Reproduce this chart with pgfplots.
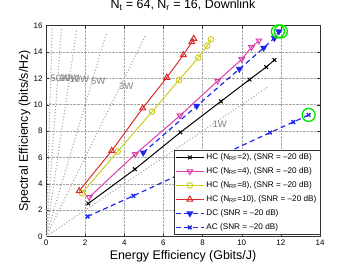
\documentclass[border=0pt]{standalone}
\usepackage{pgfplots}
\pgfplotsset{compat=1.18}
\usepackage{fontspec}
\setmainfont{Liberation Sans}
\definecolor{cRed}{RGB}{220,45,45}
\definecolor{cYel}{RGB}{205,205,30}
\definecolor{cMag}{RGB}{220,60,170}
\definecolor{cBlue}{RGB}{30,40,235}
\definecolor{cGreen}{RGB}{0,225,0}
\definecolor{cIso}{RGB}{170,170,170}
\begin{document}
\begin{tikzpicture}
\begin{axis}[name=ax, scale only axis, width=274bp, height=211bp,
  xmin=0, xmax=14, ymin=0, ymax=16,
  xtick={0,2,...,14}, ytick={0,2,...,16},
  tick align=inside, major tick length=3bp,
  grid=major, grid style={densely dotted, gray!70, line width=0.4pt},
  axis line style={black!80}, tick style={black!80},
  ticklabel style={font=\fontsize{8}{9}\selectfont},
  /pgf/number format/assume math mode=true,
  xlabel={Energy Efficiency (Gbits/J)},
  ylabel={Spectral Efficiency (bits/s/Hz)},
  title={N\textsubscript{t} = 64, N\textsubscript{r} = 16, Downlink},
  label style={font=\fontsize{12.5}{14}\selectfont},
  xlabel style={at={(axis description cs:0.5,-0.110)}, anchor=base},
  ylabel style={at={(axis description cs:-0.066,0.5)}, anchor=base},
  title style={font=\fontsize{12.5}{14}\selectfont, at={(axis description cs:0.5,1.051)}, anchor=base},
  legend style={at={(axis description cs:1,0.008)}, anchor=south east,
     font=\fontsize{8.2}{9.5}\selectfont, draw=black!80, fill=white,
     row sep=2.6bp, inner sep=1.5bp},
  legend cell align=left,
  legend image code/.code={\draw[mark repeat=2,mark phase=2] plot coordinates {(0bp,0bp) (14bp,0bp) (28bp,0bp)};},
]
% iso-power lines
\addplot[forget plot, cIso, dotted, line width=1.1pt] coordinates {(0,0) (11.3,11.3)};
\addplot[forget plot, cIso, dotted, line width=1.1pt] coordinates {(0,0) (5.1,15.3)};
\addplot[forget plot, cIso, dotted, line width=1.1pt] coordinates {(0,0) (3.1,15.5)};
\addplot[forget plot, cIso, dotted, line width=1.1pt] coordinates {(0,0) (1.56,15.6)};
\addplot[forget plot, cIso, dotted, line width=1.1pt] coordinates {(0,0) (0.79,15.8)};
\addplot[forget plot, cIso, dotted, line width=1.1pt] coordinates {(0,0) (0.32,15.8)};
\node[gray, font=\fontsize{9.5}{10}\selectfont, anchor=west, inner sep=0pt] at (axis cs:0.22,12.0) {50W};
\node[gray, font=\fontsize{9.5}{10}\selectfont, anchor=west, inner sep=0pt] at (axis cs:0.7,12.0) {20W};
\node[gray, font=\fontsize{9.5}{10}\selectfont, anchor=west, inner sep=0pt] at (axis cs:1.2,11.95) {10W};
\node[gray, font=\fontsize{9.5}{10}\selectfont, anchor=west, inner sep=0pt] at (axis cs:2.3,11.74) {5W};
\node[gray, font=\fontsize{9.5}{10}\selectfont, anchor=west, inner sep=0pt] at (axis cs:3.72,11.36) {3W};
\node[gray, font=\fontsize{9.5}{10}\selectfont, anchor=west, inner sep=0pt] at (axis cs:8.5,8.54) {1W};
% HC NRF=2
\addplot[black, line width=1pt, mark=x, mark size=2.6bp, mark options={solid}] coordinates {
 (2.16,2.5) (4.54,5.1) (6.87,7.9) (8.94,10.25) (10.4,11.9) (11.25,12.85) (11.67,13.38)};
\addlegendentry{HC (N\textsubscript{RF}=2), (SNR = –20 dB)}
% HC NRF=4
\addplot[cMag, line width=1pt, mark=triangle, mark size=3.2bp, mark options={solid, rotate=180}] coordinates {
 (2.21,2.98) (4.56,6.24) (6.85,9.17) (8.77,11.8) (10.0,13.44) (10.5,14.35) (10.88,14.85)};
\addlegendentry{HC (N\textsubscript{RF}=4), (SNR = –20 dB)}
% HC NRF=8
\addplot[cYel, line width=1pt, mark=o, mark size=2.8bp, mark options={solid}] coordinates {
 (1.84,3.29) (3.66,6.44) (5.42,9.47) (6.80,11.87) (7.78,13.56) (8.24,14.47) (8.43,14.95)};
\addlegendentry{HC (N\textsubscript{RF}=8), (SNR = –20 dB)}
% HC NRF=10
\addplot[cRed, line width=1pt, mark=triangle, mark size=3.4bp, mark options={solid}] coordinates {
 (1.70,3.46) (3.36,6.5) (4.94,9.73) (6.17,12.05) (7.02,13.77) (7.45,14.75) (7.55,15.0)};
\addlegendentry{HC (N\textsubscript{RF}=10), (SNR = –20 dB)}
% DC
\addplot[cBlue, line width=1.2pt, dash pattern=on 5bp off 3.5bp, mark=triangle*, mark size=3bp, mark options={solid, rotate=180}] coordinates {
 (4.97,6.36) (7.7,9.9) (9.88,12.7) (11.12,14.3) (11.67,15.05) (11.9,15.55)};
\addlegendentry{DC (SNR = –20 dB)}
% AC
\addplot[cBlue, line width=1.2pt, dash pattern=on 5bp off 3.5bp, mark=x, mark size=2.6bp, mark options={solid, line width=1.4pt}] coordinates {
 (2.13,1.52) (4.46,3.08) (11.45,7.88) (12.64,8.68) (13.42,9.22)};
\addlegendentry{AC (SNR = –20 dB)}
% green highlight circles
\addplot[forget plot, only marks, mark=o, mark size=6.5bp, cGreen, mark options={line width=1.3pt}] coordinates {
 (11.85,15.55) (12.0,15.55) (13.42,9.22)};
\end{axis}
\pgfresetboundingbox
\path ([shift={(-46bp,-29.3bp)}]ax.south west) rectangle ([shift={(33bp,25.5bp)}]ax.north east);
\end{tikzpicture}
\end{document}
